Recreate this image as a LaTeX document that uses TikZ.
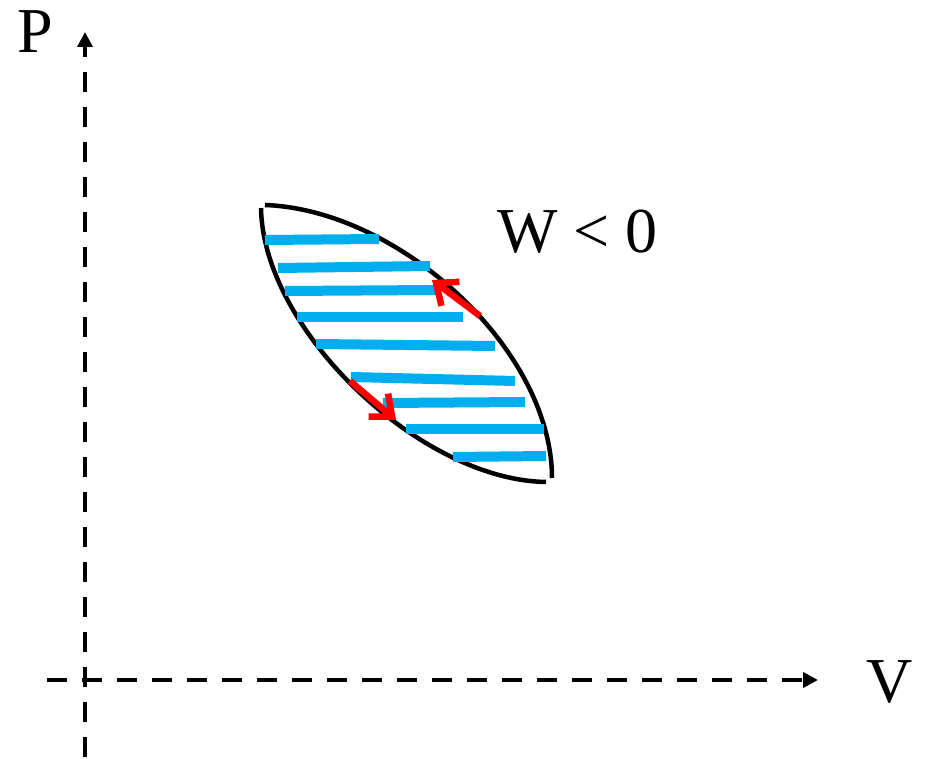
\documentclass[tikz,border=0pt]{standalone}
\usepackage{fontspec}
\setmainfont{Liberation Serif}
\usetikzlibrary{arrows.meta}
\definecolor{hatch}{HTML}{00AEEF}
\definecolor{flow}{HTML}{FF0000}
\tikzset{
  axis/.style={line width=4pt, dash pattern=on 20pt off 15pt, -{Triangle[length=15pt,width=15pt]}},
  loopline/.style={line width=4.5pt, black},
  hatchline/.style={line width=10pt, hatch},
  flowarrow/.style={line width=6.5pt, flow, -{Straight Barb[length=18pt,width=30pt]}},
  lbl/.style={font=\fontsize{64}{70}\selectfont, inner sep=0pt, anchor=base}
}
\begin{document}
\begin{tikzpicture}[x=1pt,y=-1pt]
\useasboundingbox (0,0) rectangle (930,759);
% axes
\coordinate (yb) at (85,757);
\coordinate (yt) at (85,32);
\coordinate (xl) at (47,680);
\coordinate (xr) at (818,680);
\draw[axis] (yb) -- (yt);
\draw[axis] (xl) -- (xr);
% labels
\node[lbl] (P) at (35,53) {P};
\node[lbl] (V) at (890,702) {V};
\node[lbl, anchor=base west] (W) at (497,253) {W < 0};
% loop
\coordinate (a0) at (265,205);
\coordinate (a1) at (552,478);
\coordinate (b0) at (261,208);
\coordinate (b1) at (546,482);
\draw[loopline] (a0) .. controls (400,210) and (552,350) .. (a1);
\draw[loopline] (b0) .. controls (263,330) and (420,480) .. (b1);
% hatching
\foreach \i/\xa/\ya/\xb/\yb in {1/265/240/379/239, 2/278/268/430/266, 3/285/291/437/290, 4/297/317/463/317, 5/316/344/495/346, 6/351/377/515/381, 7/383/403/525/402, 8/406/429/544/429, 9/453/457/546/456}{
  \coordinate (h\i s) at (\xa,\ya);
  \coordinate (h\i e) at (\xb,\yb);
  \draw[hatchline] (h\i s) -- (h\i e);
}
% flow arrows
\coordinate (u0) at (480,316);
\coordinate (u1) at (432,280);
\coordinate (d0) at (350,381);
\coordinate (d1) at (396,420);
\draw[flowarrow] (u0) -- (u1);
\draw[flowarrow] (d0) -- (d1);
\end{tikzpicture}
\end{document}
